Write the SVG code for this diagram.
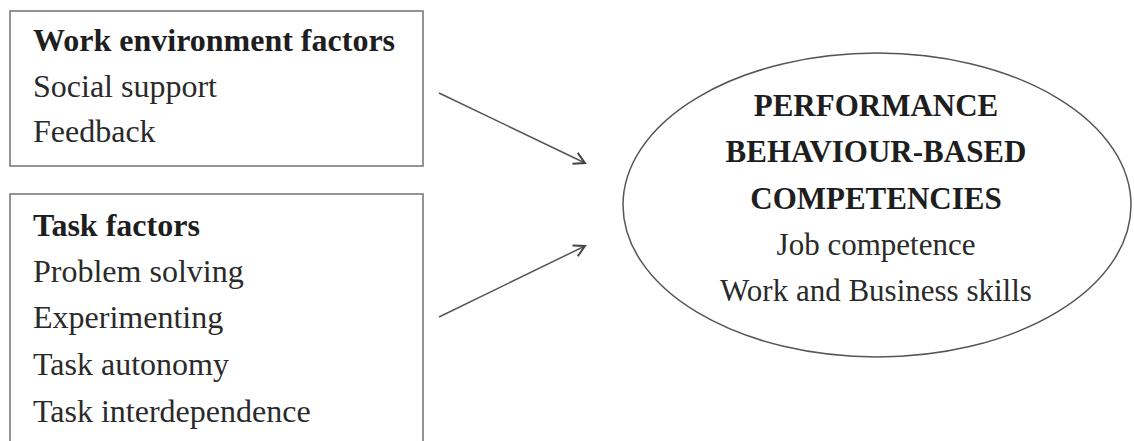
<svg xmlns="http://www.w3.org/2000/svg" width="1134" height="441" viewBox="0 0 1134 441">
  <style>
    .box { fill: #ffffff; stroke: #7a7a7a; stroke-width: 1.6; }
    .ell { fill: #ffffff; stroke: #555555; stroke-width: 1.5; }
    .t { font-family: "Liberation Serif", "Times New Roman", serif; font-size: 31px; fill: #2a2a2a; }
    .l { font-size: 32px; }
    .b { font-weight: bold; fill: #1e1e1e; }
    .c { text-anchor: middle; }
    .conn { stroke: #555555; stroke-width: 1.5; fill: none; }
  </style>
  <defs>
    <marker id="arrow" viewBox="0 0 14 14" refX="12" refY="7" markerWidth="14" markerHeight="14" markerUnits="userSpaceOnUse" orient="auto">
      <path d="M1,1 L12,7 L1,13" fill="none" stroke="#444444" stroke-width="2"/>
    </marker>
  </defs>
  <rect width="1134" height="441" fill="#ffffff"/>

  <g id="work-environment">
    <rect class="box" x="10" y="11" width="413" height="155"/>
    <text class="t l b" x="33" y="51">Work environment factors</text>
    <text class="t l" x="33" y="97">Social support</text>
    <text class="t l" x="33" y="142">Feedback</text>
  </g>

  <g id="task-factors">
    <rect class="box" x="10" y="194" width="413" height="260"/>
    <text class="t l b" x="33" y="236">Task factors</text>
    <text class="t l" x="33" y="282">Problem solving</text>
    <text class="t l" x="33" y="328">Experimenting</text>
    <text class="t l" x="33" y="375">Task autonomy</text>
    <text class="t l" x="33" y="422">Task interdependence</text>
  </g>

  <g id="performance">
    <ellipse class="ell" cx="877" cy="205" rx="254" ry="152"/>
    <text class="t b c" x="876" y="116">PERFORMANCE</text>
    <text class="t b c" x="876" y="162">BEHAVIOUR-BASED</text>
    <text class="t b c" x="876" y="209">COMPETENCIES</text>
    <text class="t c" x="876" y="255">Job competence</text>
    <text class="t c" x="876" y="301">Work and Business skills</text>
  </g>

  <g id="connectors">
    <line class="conn" x1="439" y1="93" x2="585" y2="163" marker-end="url(#arrow)"/>
    <line class="conn" x1="439" y1="317" x2="585" y2="246" marker-end="url(#arrow)"/>
  </g>
</svg>
